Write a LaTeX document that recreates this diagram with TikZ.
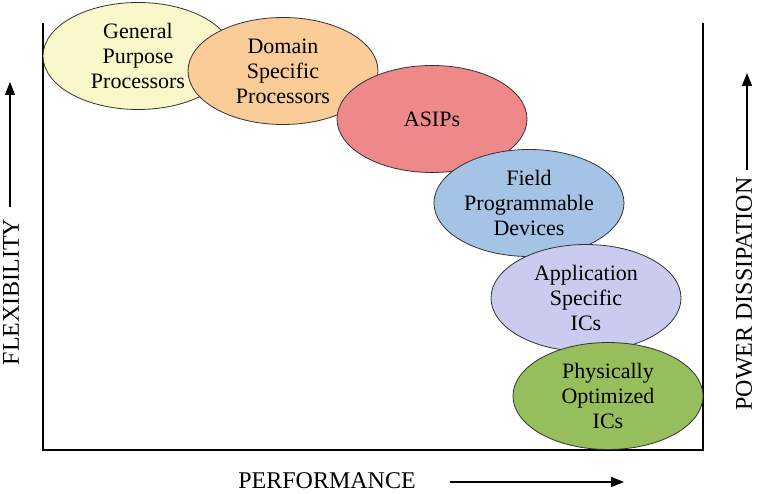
\documentclass[tikz,border=0pt]{standalone}
\usepackage{fontspec}
\setmainfont{Liberation Serif}
\usetikzlibrary{shapes.geometric,arrows.meta}
\definecolor{cYel}{RGB}{250,247,202}
\definecolor{cOra}{RGB}{250,204,152}
\definecolor{cRed}{RGB}{239,137,137}
\definecolor{cBlu}{RGB}{164,195,229}
\definecolor{cLav}{RGB}{203,203,239}
\definecolor{cGre}{RGB}{151,190,92}
\tikzset{
  blob/.style={ellipse, draw=black!80, line width=0.8pt, inner sep=0pt,
    minimum width=190pt, minimum height=107pt},
  blobtext/.style={align=center, font=\fontsize{22}{25}\selectfont, inner sep=0pt},
  axlabel/.style={font=\fontsize{24}{28}\selectfont, inner sep=0pt},
  frameline/.style={line width=1.2pt, black},
  axarrow/.style={line width=1.4pt, -{Triangle[length=13pt,width=10pt]}}
}
\begin{document}
\begin{tikzpicture}[x=1pt,y=-1pt]
\useasboundingbox (0,0) rectangle (757,494);
% frame
\draw[frameline] (43,23) -- (43,450) -- (703,450) -- (703,23);
% ellipses
\node[blob, fill=cYel] (gpp) at (138,56) {};
\node[blobtext] (gppt) at (gpp.center) {General\\Purpose\\Processors};
\node[blob, fill=cOra] (dsp) at (283,71) {};
\node[blobtext] (dspt) at (dsp.center) {Domain\\Specific\\Processors};
\node[blob, fill=cRed] (asip) at (432,119) {};
\node[blobtext] (asipt) at (asip.center) {ASIPs};
\node[blob, fill=cBlu] (fpd) at (529,203) {};
\node[blobtext] (fpdt) at (fpd.center) {Field\\Programmable\\Devices};
\node[blob, fill=cLav] (asic) at (586,298) {};
\node[blobtext] (asict) at (asic.center) {Application\\Specific\\ICs};
\node[blob, fill=cGre] (poic) at (608,396) {};
\node[blobtext] (poict) at (poic.center) {Physically\\Optimized\\ICs};
% axis labels
\node[axlabel, rotate=90] (flex) at (11,292) {FLEXIBILITY};
\coordinate (flexA) at (10,207);
\coordinate (flexB) at (10,82);
\draw[axarrow] (flexA) -- (flexB);
\node[axlabel, rotate=90] (pow) at (744,294) {POWER DISSIPATION};
\coordinate (powA) at (747,170);
\coordinate (powB) at (747,73);
\draw[axarrow] (powA) -- (powB);
\node[axlabel] (perf) at (327,481) {PERFORMANCE};
\coordinate (perfA) at (450,482);
\coordinate (perfB) at (624,482);
\draw[axarrow] (perfA) -- (perfB);
\end{tikzpicture}
\end{document}
